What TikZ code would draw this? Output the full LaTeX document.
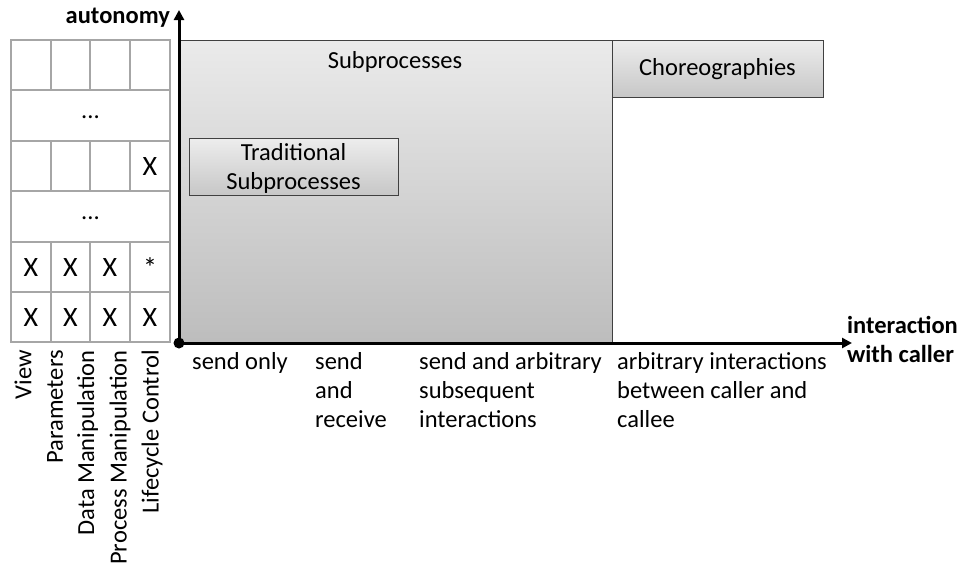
\documentclass[tikz,border=0pt]{standalone}
\usepackage{fontspec}
\setmainfont{Carlito}
\usetikzlibrary{arrows.meta}
\definecolor{gridgray}{HTML}{A6A6A6}
\definecolor{boxedge}{HTML}{404040}
\tikzset{
  lbl/.style={font=\fontsize{24.5}{29}\selectfont, inner sep=0pt},
  axlbl/.style={font=\fontsize{24.5}{29}\selectfont\bfseries, inner sep=0pt},
  cellx/.style={font=\fontsize{28}{28}\selectfont, inner sep=0pt},
  celldots/.style={font=\fontsize{24.5}{24.5}\selectfont, inner sep=0pt},
  collbl/.style={font=\fontsize{24.5}{24.5}\selectfont, inner sep=0pt, rotate=90, anchor=east},
  gridline/.style={draw=gridgray, line width=1.5pt},
  axis/.style={line width=3pt, -{Triangle[length=10pt,width=10pt]}},
  shadebox/.style={draw=boxedge, line width=1pt},
}
\begin{document}
\begin{tikzpicture}[x=1pt,y=-1pt]
\useasboundingbox (0,0) rectangle (959,565);

% capability table
\draw[gridline] (11,40) rectangle (170,342);
\foreach \y in {90,141,191,242,292} \draw[gridline] (11,\y) -- (170,\y);
\foreach \x in {51,90,130} {
  \draw[gridline] (\x,40) -- (\x,90);
  \draw[gridline] (\x,141) -- (\x,191);
  \draw[gridline] (\x,242) -- (\x,342);
}
\node[celldots] (r2) at (90.5,117) {...};
\node[celldots] (r4) at (90.5,218) {...};
\node[cellx] (c34) at (150,167) {X};
\node[cellx] (c51) at (31,268) {X};
\node[cellx] (c52) at (70.5,268) {X};
\node[cellx] (c53) at (110,268) {X};
\node[cellx] (c54) at (150,268) {*};
\node[cellx] (c61) at (31,318) {X};
\node[cellx] (c62) at (70.5,318) {X};
\node[cellx] (c63) at (110,318) {X};
\node[cellx] (c64) at (150,318) {X};

% column headings
\node[collbl] (hview) at (23,350) {View};
\node[collbl] (hpar) at (55,350) {Parameters};
\node[collbl] (hdata) at (87.5,350) {Data Manipulation};
\node[collbl] (hproc) at (120,350) {Process Manipulation};
\node[collbl] (hlife) at (152,350) {Lifecycle Control};

% regions
\shade[shadebox, top color=black!8, bottom color=black!26] (179,40) rectangle (612,343);
\node[lbl] (subp) at (395,62) {Subprocesses};
\shade[shadebox, top color=black!7, bottom color=black!22] (189,138) rectangle (398,195);
\node[lbl, align=center] (trad) at (293.5,168) {Traditional\\Subprocesses};
\shade[shadebox, top color=black!7, bottom color=black!22] (612,40) rectangle (823,97);
\node[lbl] (chor) at (717.5,69) {Choreographies};

% axes
\coordinate (origin) at (179,343);
\coordinate (ytip) at (179,10);
\coordinate (xtip) at (852,343);
\draw[axis] (origin) -- (ytip);
\draw[axis] (origin) -- (xtip);
\fill (origin) circle (5.5);
\node[axlbl, anchor=base east] (yl) at (170,23) {autonomy};
\node[axlbl, anchor=base west] (xl1) at (847,333) {interaction};
\node[axlbl, anchor=base west] (xl2) at (847,362) {with caller};

% interaction levels
\node[lbl, anchor=north west, align=left] (l1) at (192,352) {send only};
\node[lbl, anchor=north west, align=left] (l2) at (315,352) {send\\and\\receive};
\node[lbl, anchor=north west, align=left] (l3) at (419,352) {send and arbitrary\\subsequent\\interactions};
\node[lbl, anchor=north west, align=left] (l4) at (617,352) {arbitrary interactions\\between caller and\\callee};
\end{tikzpicture}
\end{document}
